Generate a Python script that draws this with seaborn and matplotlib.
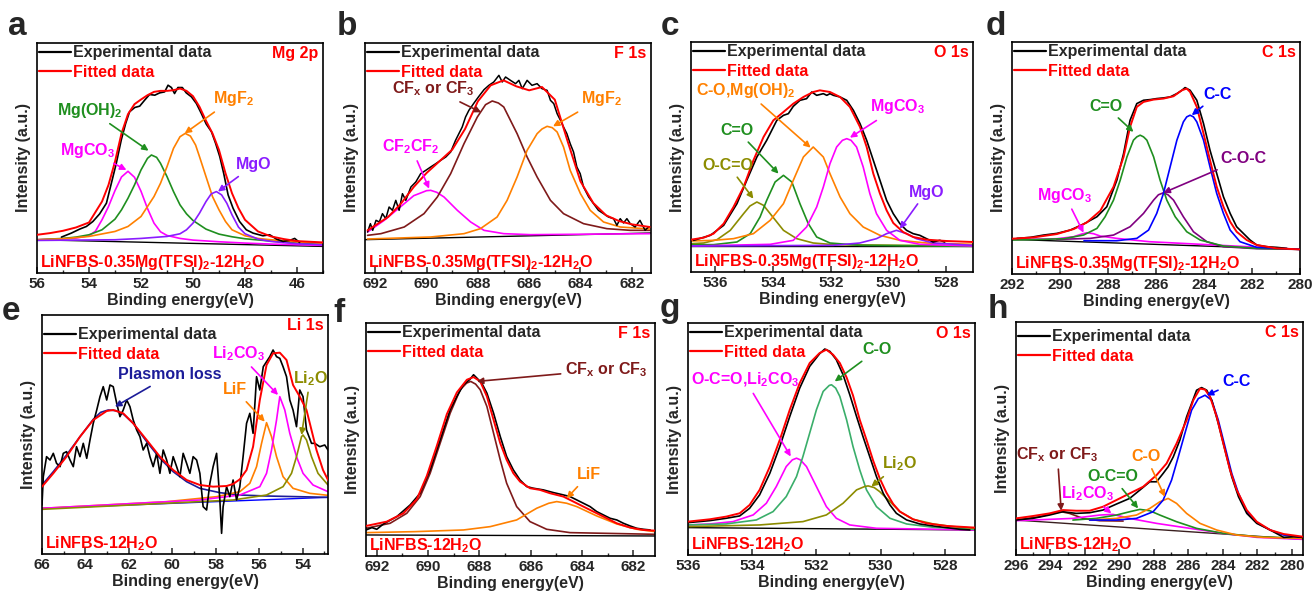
import matplotlib
matplotlib.use("Agg")
import matplotlib.pyplot as plt
from matplotlib.lines import Line2D
import seaborn as sns

# ---------------- data (binding energy eV, intensity a.u.) ----------------
# panel a : Mg 2p, LiNFBS-0.35Mg(TFSI)2-12H2O
a_exp = [(55.06,108),(54.68,120),(54.36,132),(54.1,140),(53.85,155),(53.59,178),(53.33,210),(53.14,270),(52.95,330),
         (52.76,400),(52.59,450),(52.44,485),(52.24,498),(52.05,502),(51.86,520),(51.67,537),(51.47,535),(51.28,542),
         (51.09,545),(50.96,565),(50.83,558),(50.71,540),(50.58,558),(50.41,558),(50.26,542),(50.06,530),(49.87,510),
         (49.68,480),(49.49,448),(49.29,425),(49.13,390),(48.97,350),(48.82,300),(48.65,235),(48.46,195),(48.21,155),
         (47.95,130),(47.69,120),(47.31,112),(47.05,115),(46.79,102),(46.54,95),(46.28,98),(46.09,104),(45.9,92)]
a_fit = [(56.0,115),(55.5,120),(55.0,127),(54.5,137),(54.0,152),(53.5,215),(53.25,265),(53.0,335),(52.75,420),(52.5,478),
         (52.25,508),(52.0,522),(51.75,535),(51.5,545),(51.25,548),(51.0,548),(50.75,550),(50.5,555),(50.25,548),(50.0,532),
         (49.75,500),(49.5,458),(49.25,420),(49.0,370),(48.75,300),(48.5,240),(48.25,195),(48.0,160),(47.5,125),(47.0,110),
         (46.5,102),(46.0,96),(45.5,94),(45.0,92)]
a_mgco3 = [(56,100),(55,103),(54.5,105),(54,112),(53.75,126),(53.5,160),(53.25,200),(53,248),(52.75,289),(52.5,306),
           (52.25,288),(52,246),(51.75,194),(51.5,150),(51.25,124),(51,113),(50.5,104),(50,99),(49,94),(48,90),(47,87),
           (46,85),(45,83)]
a_mgoh2 = [(56,100),(55,104),(54.5,108),(54,115),(53.5,130),(53,162),(52.75,190),(52.5,225),(52.25,265),(52,310),
           (51.75,345),(51.6,355),(51.4,348),(51.25,330),(51,290),(50.75,245),(50.5,205),(50.25,178),(50,158),(49.5,132),
           (49,117),(48.5,109),(48,103),(47,96),(46,90),(45,86)]
a_mgf2 = [(56,100),(55,103),(54,110),(53,125),(52.5,140),(52,170),(51.5,230),(51.25,270),(51,320),(50.75,375),(50.5,410),
          (50.3,420),(50.1,412),(49.9,385),(49.75,350),(49.5,290),(49.25,230),(49,190),(48.75,155),(48.5,130),(48,112),
          (47.5,104),(47,100),(46,94),(45,90)]
a_mgo = [(56,98),(53,100),(52,104),(51,110),(50.5,118),(50.25,130),(50,150),(49.75,180),(49.5,215),(49.3,238),(49.1,245),
         (48.9,235),(48.7,210),(48.5,175),(48.25,138),(48,118),(47.5,102),(47,95),(46,88),(45,85)]
a_base = [(56,100),(45,80)]

# panel b : F 1s, LiNFBS-0.35Mg(TFSI)2-12H2O
b_exp = [(692.30,123),(692.19,148),(692.10,128),(691.97,158),(691.84,153),(691.72,178),(691.59,163),(691.46,198),
         (691.33,188),(691.20,218),(691.07,188),(690.94,238),(690.81,218),(690.61,258),(690.42,273),(690.23,298),
         (690.03,308),(689.84,318),(689.64,328),(689.45,338),(689.25,348),(689.06,363),(688.87,398),(688.74,418),
         (688.61,438),(688.48,468),(688.35,488),(688.15,510),(687.96,530),(687.76,550),(687.57,563),(687.38,573),
         (687.18,593),(687.05,573),(686.92,588),(686.73,578),(686.53,568),(686.40,578),(686.27,553),(686.08,578),
         (685.89,563),(685.69,568),(685.50,553),(685.30,548),(685.17,518),(685.04,508),(684.91,478),(684.78,458),
         (684.66,438),(684.53,418),(684.40,388),(684.27,363),(684.14,318),(684.01,298),(683.88,258),(683.68,228),
         (683.49,208),(683.30,188),(683.10,178),(682.91,168),(682.71,163),(682.58,143),(682.45,163),(682.32,150),
         (682.19,163),(682.06,148),(681.87,138),(681.68,158),(681.48,128),(681.35,138)]
b_fit = [(692.3,128),(691.5,168),(691.0,208),(690.5,258),(690.0,300),(689.5,335),(689.0,370),(688.5,432),(688.0,515),
         (687.5,563),(687.0,578),(686.5,560),(686.0,548),(685.5,558),(685.0,520),(684.5,395),(684.0,275),(683.5,210),
         (683.0,173),(682.5,156),(682.0,146),(681.3,138)]
b_cfx = [(692.3,113),(691.78,118),(690.87,138),(690.1,178),(689.58,228),(689.06,298),(688.54,388),(688.02,468),
         (687.7,505),(687.44,516),(687.2,510),(686.99,498),(686.47,418),(686.08,348),(685.69,288),(685.17,218),
         (684.66,178),(683.88,148),(682.97,133),(682.06,128),(681.3,128)]
b_cf2cf2 = [(692.3,123),(691.65,158),(690.87,208),(690.5,232),(690.23,240),(690.0,247),(689.84,248),(689.6,242),
            (689.32,228),(688.8,188),(688.28,153),(687.76,128),(686.99,118),(685.95,115),(681.3,118)]
b_mgf2 = [(692.3,102),(689.84,108),(688.54,118),(687.9,133),(687.25,168),(686.86,218),(686.47,288),(686.08,368),
          (685.69,418),(685.5,432),(685.3,440),(685.1,436),(684.91,423),(684.66,378),(684.4,308),(684.0,238),
          (683.62,188),(683.1,153),(682.45,138),(681.3,132)]
b_base = [(692.4,100),(681.25,120)]

# panel c : O 1s, LiNFBS-0.35Mg(TFSI)2-12H2O
c_exp = [(536.75,95),(536.17,110),(535.71,140),(535.25,205),(534.91,275),(534.56,345),(534.22,395),(533.87,455),
         (533.64,470),(533.47,475),(533.30,497),(533.07,515),(532.84,520),(532.66,540),(532.49,530),(532.26,535),
         (532.14,530),(532.03,535),(531.91,530),(531.68,525),(531.45,515),(531.22,485),(530.99,445),(530.76,395),
         (530.53,335),(530.30,275),(530.07,215),(529.84,175),(529.61,145),(529.38,125),(529.15,115),(528.92,110),
         (528.69,100),(528.46,90),(528.23,95),(528.06,90)]
c_fit = [(536.84,97),(536.40,103),(536.06,115),(535.71,145),(535.37,195),(535.02,255),(534.68,335),(534.33,405),
         (533.99,455),(533.64,480),(533.30,505),(532.95,525),(532.61,540),(532.38,545),(532.03,540),(531.68,525),
         (531.34,495),(530.99,435),(530.76,375),(530.53,295),(530.30,235),(530.07,185),(529.84,147),(529.50,120),
         (529.15,105),(528.69,97),(528.00,93),(527.08,90)]
c_oco = [(536.84,85),(536.4,87),(535.94,97),(535.48,125),(535.02,175),(534.8,198),(534.56,210),(534.33,200),(534.1,175),
         (533.64,125),(533.18,100),(532.61,87),(531.9,82),(527.08,78)]
c_co = [(536.84,82),(536.06,82),(535.25,90),(534.79,115),(534.45,165),(534.22,215),(533.93,270),(533.64,290),
        (533.35,270),(533.07,205),(532.78,145),(532.49,105),(532.03,87),(531.0,80),(527.08,77)]
c_comg = [(536.84,93),(536.06,95),(535.37,100),(534.68,115),(534.1,155),(533.64,205),(533.3,275),(532.95,345),
          (532.61,375),(532.26,345),(532.03,295),(531.68,225),(531.34,175),(530.88,135),(530.3,110),(529.61,95),
          (528.69,87),(527.08,83)]
c_mgco3 = [(536.84,78),(534.1,83),(533.3,95),(532.84,135),(532.49,195),(532.26,255),(532.03,325),(531.8,375),
           (531.6,395),(531.45,400),(531.3,395),(531.11,375),(530.88,315),(530.65,235),(530.42,175),(530.07,125),
           (529.61,95),(528.92,83),(527.08,78)]
c_mgo = [(536.84,78),(531.92,80),(531.0,87),(530.42,100),(530.07,115),(529.73,125),(529.38,115),(529.04,100),
         (528.46,87),(527.08,80)]
c_base = [(536.84,78),(527.08,78)]

# panel d : C 1s, LiNFBS-0.35Mg(TFSI)2-12H2O
d_exp = [(291.79,107),(291.24,110),(290.68,117),(290.13,122),(289.57,132),(289.02,150),(288.46,172),(288.05,202),
         (287.63,282),(287.35,362),(287.08,462),(286.8,512),(286.52,522),(286.24,524),(285.97,527),(285.69,529),
         (285.41,532),(285.13,542),(284.92,552),(284.79,560),(284.58,552),(284.3,522),(284.02,452),(283.75,372),
         (283.47,302),(283.19,232),(282.91,182),(282.64,142),(282.36,122),(282.08,102),(281.8,87),(281.39,82),
         (280.97,80),(280.55,77)]
d_fit = [(292,106),(291.1,110),(290.13,120),(289.43,135),(288.88,155),(288.32,190),(287.77,262),(287.35,352),
         (287.08,442),(286.8,502),(286.52,517),(286.1,524),(285.69,527),(285.27,534),(284.92,552),(284.72,557),
         (284.58,547),(284.3,502),(284.02,422),(283.75,342),(283.47,262),(283.19,202),(282.91,157),(282.64,127),
         (282.22,102),(281.8,87),(280.97,77),(280,74)]
d_co = [(292,102),(290.8,104),(289.85,106),(289.02,117),(288.46,137),(288.12,172),(287.77,222),(287.49,282),
        (287.21,352),(286.94,402),(286.8,412),(286.66,417),(286.52,412),(286.38,402),(286.1,352),(285.83,282),
        (285.55,222),(285.2,172),(284.72,127),(284.16,102),(283.19,84),(281.8,77),(280,74)]
d_cc = [(289.0,100),(287.63,100),(286.8,107),(286.31,132),(285.97,182),(285.69,242),(285.41,322),(285.13,402),
        (284.86,457),(284.72,472),(284.58,477),(284.44,472),(284.3,457),(284.02,402),(283.75,322),(283.47,242),
        (283.19,182),(282.91,132),(282.5,97),(281.8,80),(280,74)]
d_coc = [(290.13,104),(288.74,107),(287.77,117),(287.08,142),(286.52,182),(286.1,222),(285.9,238),(285.69,244),
         (285.5,238),(285.27,222),(284.86,172),(284.44,127),(283.88,97),(283.19,82),(281.8,76),(280,74)]
d_mgco3 = [(292,104),(290.68,105),(290.13,106),(289.43,112),(289.1,120),(288.88,124),(288.6,121),(288.32,114),
           (287.63,107),(286.27,97),(280,74)]
d_base = [(292,104),(280,74)]

# panel e : Li 1s, LiNFBS-12H2O
e_exp = [(66.0,147),(65.94,232),(65.79,292),(65.63,282),(65.48,302),(65.33,272),(65.17,262),(65.02,302),(64.87,307),
         (64.71,282),(64.56,262),(64.41,322),(64.25,292),(64.10,332),(63.94,287),(63.79,342),(63.64,392),(63.48,432),
         (63.33,472),(63.18,502),(63.02,462),(62.87,507),(62.72,502),(62.56,452),(62.41,412),(62.26,432),(62.10,462),
         (61.95,442),(61.80,402),(61.64,372),(61.49,352),(61.34,312),(61.18,332),(61.03,292),(60.88,262),(60.72,302),
         (60.57,242),(60.42,312),(60.26,282),(60.11,242),(59.96,292),(59.80,262),(59.65,232),(59.50,302),(59.34,272),
         (59.19,242),(59.04,292),(58.88,282),(58.73,242),(58.58,142),(58.42,132),(58.27,212),(58.12,262),(57.96,302),
         (57.81,162),(57.73,62),(57.66,142),(57.50,202),(57.35,172),(57.20,222),(57.04,162),(56.89,202),(56.74,292),
         (56.58,392),(56.43,422),(56.28,362),(56.12,532),(55.97,492),(55.81,562),(55.66,577),(55.51,592),(55.36,612),
         (55.20,592),(55.05,587),(54.90,562),(54.74,532),(54.59,462),(54.44,432),(54.28,382),(54.13,492),(53.98,472),
         (53.82,372),(53.59,332),(53.44,332),(53.21,322),(52.98,327),(52.83,312)]
e_fit = [(66.0,202),(65.48,242),(64.87,292),(64.25,352),(63.64,402),(63.02,429),(62.72,432),(62.26,422),(61.8,392),
         (61.18,342),(60.57,292),(59.96,252),(59.34,222),(58.73,207),(58.12,202),(57.5,204),(57.2,210),(56.89,224),
         (56.58,252),(56.28,322),(55.97,462),(55.66,567),(55.36,602),(55.05,604),(54.74,582),(54.44,507),(54.13,472),
         (53.82,432),(53.59,372),(53.36,312),(53.06,252),(52.83,222)]
e_plasmon = [(66.0,207),(65.48,247),(64.87,297),(64.25,352),(63.64,404),(63.3,425),(62.95,432),(62.6,430),(62.26,420),
             (61.8,392),(61.18,337),(60.57,287),(59.96,247),(59.34,217),(58.73,197),(57.81,184),(56.89,177),(55.66,174),
             (52.83,170)]
e_lif = [(66.0,137),(60.26,157),(57.96,172),(56.89,187),(56.43,212),(56.12,262),(55.89,332),(55.66,394),(55.43,352),
         (55.2,292),(54.9,232),(54.44,197),(53.67,182),(52.83,176)]
e_li2co3 = [(66.0,137),(58.73,162),(56.89,177),(55.97,202),(55.66,242),(55.43,312),(55.2,402),(55.05,472),(54.82,432),
            (54.59,362),(54.28,292),(53.98,242),(53.52,207),(52.83,187)]
e_li2o = [(66.0,134),(57.2,162),(55.66,177),(54.9,202),(54.51,242),(54.28,292),(54.05,352),(53.98,357),(53.82,342),
          (53.59,292),(53.29,242),(52.83,207)]
e_base = [(66.0,137),(52.83,170)]

# panel f : F 1s, LiNFBS-12H2O
f_exp = [(692.42,78),(692.19,85),(692.0,80),(691.74,96),(691.22,118),(690.70,153),(690.31,188),(689.92,258),
         (689.53,348),(689.14,438),(688.88,478),(688.62,513),(688.36,530),(688.23,543),(688.10,533),(687.91,518),
         (687.71,488),(687.45,428),(687.19,358),(686.94,298),(686.68,258),(686.42,228),(686.16,208),(685.90,203),
         (685.51,198),(685.12,190),(684.73,183),(684.47,178),(684.21,168),(683.95,158),(683.69,148),(683.43,133),
         (683.17,123),(682.91,113),(682.65,108),(682.39,98),(682.13,90),(681.87,83),(681.61,80),(681.35,78)]
f_fit = [(692.42,90),(691.61,103),(690.96,128),(690.44,170),(690.05,240),(689.66,330),(689.27,425),(688.88,490),
         (688.49,528),(688.23,536),(687.97,523),(687.71,478),(687.45,408),(687.19,338),(686.94,288),(686.68,248),
         (686.42,223),(686.03,203),(685.64,198),(685.25,188),(684.73,178),(684.21,158),(683.69,138),(683.17,118),
         (682.65,98),(682.13,85),(681.61,78),(681.16,76)]
f_cfx = [(692.42,83),(691.48,98),(690.83,128),(690.31,178),(689.92,248),(689.53,338),(689.14,428),(688.75,498),
         (688.5,518),(688.34,523),(688.15,515),(687.97,498),(687.71,448),(687.45,368),(687.19,288),(686.94,218),
         (686.55,148),(686.03,103),(685.38,80),(684.47,70),(681.16,65)]
f_lif = [(692.42,70),(690.5,73),(688.62,78),(687.58,88),(686.55,108),(685.77,143),(685.3,158),(684.99,163),
         (684.6,158),(684.21,148),(683.43,120),(682.65,96),(681.87,80),(681.16,73)]
f_base = [(692.42,63),(681.16,60)]

# panel g : O 1s, LiNFBS-12H2O
g_exp = [(536.0,97),(535.32,103),(534.81,110),(534.39,117),(534.08,140),(533.77,180),(533.45,245),(533.14,325),
         (532.83,415),(532.52,500),(532.21,565),(531.9,603),(531.74,617),(531.58,610),(531.38,585),(531.17,540),
         (530.96,480),(530.75,415),(530.55,355),(530.34,295),(530.13,235),(529.92,185),(529.71,150),(529.51,125),
         (529.19,105),(528.78,93),(528.36,87),(527.95,82),(527.53,77),(527.22,75)]
g_fit = [(536.0,100),(535.32,107),(534.81,115),(534.39,125),(534.08,150),(533.77,195),(533.45,265),(533.14,345),
         (532.83,435),(532.52,515),(532.21,575),(531.9,605),(531.69,615),(531.48,600),(531.27,575),(531.06,532),
         (530.86,478),(530.65,405),(530.44,345),(530.23,282),(530.03,230),(529.82,187),(529.61,153),(529.4,130),
         (528.99,107),(528.57,95),(527.95,87),(527.06,82)]
g_co = [(536.0,90),(534.81,93),(533.87,105),(533.35,130),(532.94,175),(532.62,235),(532.42,295),(532.21,365),
        (532.0,435),(531.79,490),(531.6,508),(531.53,510),(531.4,500),(531.27,475),(531.06,405),(530.86,325),
        (530.65,255),(530.44,195),(530.13,145),(529.71,110),(529.19,93),(528.36,83),(527.06,77)]
g_oco = [(536.0,90),(535.32,93),(534.6,100),(533.97,120),(533.56,155),(533.25,205),(532.94,265),(532.75,285),
         (532.62,290),(532.5,285),(532.31,265),(532.0,205),(531.69,145),(531.38,110),(530.96,90),(530.13,80),(527.06,75)]
g_li2o = [(536.0,85),(533.77,90),(532.42,100),(531.69,120),(531.17,155),(530.75,195),(530.5,205),(530.39,207),
          (530.2,202),(530.03,190),(529.71,160),(529.4,130),(528.99,107),(528.36,93),(527.74,85),(527.06,80)]
g_base = [(536.0,82),(527.06,75)]

# panel h : C 1s, LiNFBS-12H2O
h_exp = [(296.0,105),(295.03,110),(294.06,120),(293.28,130),(292.51,125),(291.73,127),(290.96,135),(290.18,153),
         (289.41,170),(288.82,195),(288.24,220),(287.85,220),(287.47,245),(287.18,265),(286.88,295),(286.5,345),
         (286.11,415),(285.82,455),(285.53,495),(285.24,503),(284.94,495),(284.65,465),(284.27,395),(283.88,315),
         (283.49,235),(283.1,175),(282.62,125),(282.04,95),(281.26,75),(280.48,53),(279.9,55),(279.36,53)]
h_fit = [(296.0,110),(295.03,117),(294.06,125),(293.28,135),(292.51,133),(291.73,133),(290.96,145),(290.18,165),
         (289.41,185),(288.63,205),(287.85,240),(287.27,275),(286.69,335),(286.11,405),(285.72,465),(285.33,500),
         (285.04,497),(284.75,475),(284.36,415),(283.98,335),(283.59,255),(283.2,195),(282.62,135),(282.04,100),
         (281.26,75),(280.48,63),(279.36,55)]
h_cc = [(291.73,105),(290.18,105),(289.02,110),(288.05,130),(287.47,165),(286.98,225),(286.59,295),(286.21,365),
        (285.82,435),(285.43,470),(285.04,480),(284.65,465),(284.27,405),(283.88,325),(283.49,245),(283.1,185),
        (282.62,130),(282.04,97),(281.26,75),(280.48,60),(279.36,53)]
h_c_o = [(291.73,105),(290.18,110),(289.02,120),(288.24,140),(287.66,160),(287.18,170),(286.69,155),(286.11,125),
         (285.33,95),(284.36,75),(283.2,60),(281.65,53),(279.36,50)]
h_oco = [(292.7,105),(291.35,110),(290.18,120),(289.41,130),(288.82,137),(288.24,133),(287.66,120),(286.69,100),
         (285.53,80),(283.98,65),(282.04,55),(279.36,50)]
h_li2co3 = [(296.0,103),(292.7,110),(291.15,120),(290.38,122),(289.41,110),(287.85,95),(285.91,80),(283.98,65),
            (282.04,53),(279.36,47)]
h_cfx = [(296.0,105),(294.64,115),(293.87,125),(293.38,130),(292.9,125),(292.12,110),(291.15,103),(289.79,102)]
h_base = [(296.0,105),(279.36,47)]

# ---------------- style ----------------
sns.set_theme(style="white")
plt.rcParams.update({
    "font.family": ["Liberation Sans", "DejaVu Sans"],
    "font.weight": "bold",
    "axes.labelweight": "bold",
    "axes.linewidth": 1.2,
    "axes.edgecolor": "black",
    "mathtext.fontset": "custom",
    "mathtext.rm": "Liberation Sans:bold",
    "mathtext.it": "Liberation Sans:bold",
    "mathtext.bf": "Liberation Sans:bold",
    "mathtext.sf": "Liberation Sans:bold",
    "mathtext.default": "rm",
})

FS = 11.5
RED = "#ff0000"; GREEN = "#1f8f1f"; ORANGE = "#ff8000"; MAGENTA = "#ff00ff"; VIOLET = "#8a1cff"
BROWN = "#7f1a1a"; OLIVE = "#8c8c00"; NAVY = "#1c1c99"; BLUE = "#0000ff"; PURPLE = "#800080"; SEAGREEN = "#3aae6a"

W, H = 1314, 599
fig = plt.figure(figsize=(W / 100, H / 100), dpi=100)


def make_ax(l, t, r, b):
    return fig.add_axes([l / W, 1 - b / H, (r - l) / W, (b - t) / H])


def draw(ax, pts, color, lw=1.2, z=2):
    xs = [p[0] for p in pts]
    ys = [p[1] for p in pts]
    sns.lineplot(x=xs, y=ys, ax=ax, color=color, lw=lw, estimator=None, sort=True, zorder=z)


def note(ax, text, xy, xyt, color):
    ax.annotate(text, xy=xy, xytext=xyt, color=color, fontsize=FS, fontweight="bold", ha="center", va="center",
                arrowprops=dict(arrowstyle="-|>", color=color, lw=1.2, mutation_scale=9, shrinkA=1, shrinkB=0), zorder=6)


def finish(ax, xlim, ylim_top, majors, core, sample, leg_y=1.0):
    ax.set_xlim(*xlim)
    ax.set_ylim(0, ylim_top)
    ax.set_xticks(majors)
    lo, hi = min(xlim), max(xlim)
    ax.set_xticks([v for v in range(int(lo), int(hi) + 1) if v not in majors and lo <= v <= hi], minor=True)
    ax.set_yticks([])
    ax.tick_params(axis="x", which="major", direction="in", length=4, width=1.1, labelsize=11, pad=3,
                   bottom=True, top=False)
    ax.tick_params(axis="x", which="minor", direction="in", length=2.5, width=1.0, bottom=True, top=False)
    for lab in ax.get_xticklabels():
        lab.set_fontweight("bold")
    ax.set_xlabel("Binding energy(eV)", fontsize=FS, fontweight="bold", labelpad=1)
    ax.set_ylabel("Intensity (a.u.)", fontsize=FS, fontweight="bold", labelpad=4)
    for s in ax.spines.values():
        s.set_visible(True); s.set_linewidth(1.2); s.set_color("black")
    ax.text(0.985, 0.955, core, transform=ax.transAxes, ha="right", va="center", color=RED, fontsize=FS,
            fontweight="bold")
    ax.text(0.01, 0.045, sample, transform=ax.transAxes, ha="left", va="center", color=RED, fontsize=FS,
            fontweight="bold")
    handles = [Line2D([], [], color="black", lw=1.6), Line2D([], [], color=RED, lw=1.6)]
    leg = ax.legend(handles, ["Experimental data", "Fitted data"], loc="upper left", bbox_to_anchor=(0.0, leg_y),
                    frameon=False, borderaxespad=0, borderpad=0.15, handlelength=2.0, handletextpad=0.12,
                    labelspacing=0.28, prop={"weight": "bold", "size": FS})
    leg.get_texts()[1].set_color(RED)
    ax.set_facecolor("white")


S1 = "LiNFBS-0.35Mg(TFSI)$_2$-12H$_2$O"
S2 = "LiNFBS-12H$_2$O"

# ---- a ----
ax = make_ax(37, 43, 323, 273)
draw(ax, a_base, "black", 1.0)
draw(ax, a_mgco3, MAGENTA); draw(ax, a_mgoh2, GREEN); draw(ax, a_mgf2, ORANGE); draw(ax, a_mgo, VIOLET)
draw(ax, a_exp, "black", 1.2, 3); draw(ax, a_fit, RED, 1.4, 4)
note(ax, "Mg(OH)$_2$", (51.71, 368), (53.95, 490), GREEN)
note(ax, "MgF$_2$", (50.32, 420), (48.45, 525), ORANGE)
note(ax, "MgCO$_3$", (52.56, 310), (54.05, 370), MAGENTA)
note(ax, "MgO", (49.04, 245), (47.65, 325), VIOLET)
finish(ax, (56, 45), 692, [56, 54, 52, 50, 48, 46], "Mg 2p", S1)

# ---- b ----
ax = make_ax(365, 43, 651, 273)
draw(ax, b_base, "black", 1.0)
draw(ax, b_cf2cf2, MAGENTA); draw(ax, b_cfx, BROWN); draw(ax, b_mgf2, ORANGE)
draw(ax, b_exp, "black", 1.1, 3); draw(ax, b_fit, RED, 1.4, 4)
note(ax, "CF$_x$ or CF$_3$", (687.87, 482), (689.75, 553), BROWN)
note(ax, "MgF$_2$", (685.07, 440), (683.2, 523), ORANGE)
note(ax, "CF$_2$CF$_2$", (689.9, 253), (690.6, 378), MAGENTA)
finish(ax, (692.4, 681.25), 690, [692, 690, 688, 686, 684, 682], "F 1s", S1)

# ---- c ----
ax = make_ax(691, 42, 973, 272)
draw(ax, c_base, "black", 1.0)
draw(ax, c_oco, OLIVE); draw(ax, c_co, GREEN); draw(ax, c_comg, ORANGE); draw(ax, c_mgco3, MAGENTA); draw(ax, c_mgo, VIOLET)
draw(ax, c_exp, "black", 1.2, 3); draw(ax, c_fit, RED, 1.4, 4)
note(ax, "C-O,Mg(OH)$_2$", (532.7, 373), (534.95, 545), ORANGE)
note(ax, "MgCO$_3$", (531.34, 403), (529.7, 495), MAGENTA)
note(ax, "C=O", (533.81, 295), (535.25, 425), GREEN)
note(ax, "O-C=O", (534.68, 220), (535.55, 320), OLIVE)
note(ax, "MgO", (529.61, 130), (528.7, 240), VIOLET)
finish(ax, (536.84, 527.08), 690, [536, 534, 532, 530, 528], "O 1s", S1)

# ---- d ----
ax = make_ax(1012, 42, 1300, 274)
draw(ax, d_base, "black", 1.0)
draw(ax, d_mgco3, MAGENTA); draw(ax, d_coc, PURPLE); draw(ax, d_co, GREEN); draw(ax, d_cc, BLUE)
draw(ax, d_exp, "black", 1.2, 3); draw(ax, d_fit, RED, 1.4, 4)
note(ax, "C=O", (286.94, 427), (288.1, 504), GREEN)
note(ax, "C-C", (284.51, 477), (283.45, 539), BLUE)
note(ax, "C-O-C", (285.69, 244), (282.35, 347), PURPLE)
note(ax, "MgCO$_3$", (289.02, 124), (289.8, 237), MAGENTA)
finish(ax, (292, 280), 697, [292, 290, 288, 286, 284, 282, 280], "C 1s", S1)

# ---- e ----
ax = make_ax(42, 315, 328, 554)
draw(ax, e_base, BLUE, 1.0)
draw(ax, e_plasmon, NAVY); draw(ax, e_lif, ORANGE); draw(ax, e_li2co3, MAGENTA); draw(ax, e_li2o, OLIVE)
draw(ax, e_exp, "black", 1.2, 3); draw(ax, e_fit, RED, 1.4, 4)
note(ax, "Plasmon loss", (62.64, 442), (60.1, 537), NAVY)
note(ax, "LiF", (55.74, 397), (57.1, 492), ORANGE)
note(ax, "Li$_2$CO$_3$", (55.13, 477), (56.95, 602), MAGENTA)
note(ax, "Li$_2$O", (54.05, 357), (53.65, 527), OLIVE)
finish(ax, (66.0, 52.83), 717, [66, 64, 62, 60, 58, 56, 54], "Li 1s", S2, leg_y=1 - 10 / 239)

# ---- f ----
ax = make_ax(366, 323, 655, 556)
draw(ax, f_base, "black", 1.0)
draw(ax, f_cfx, BROWN); draw(ax, f_lif, ORANGE)
draw(ax, f_exp, "black", 1.2, 3); draw(ax, f_fit, RED, 1.4, 4)
note(ax, "CF$_x$ or CF$_3$", (688.1, 523), (683.05, 558), BROWN)
note(ax, "LiF", (684.6, 173), (683.75, 243), ORANGE)
finish(ax, (692.42, 681.16), 698, [692, 690, 688, 686, 684, 682], "F 1s", S2)

# ---- g ----
ax = make_ax(688, 323, 975, 555)
draw(ax, g_base, "black", 1.0)
draw(ax, g_oco, MAGENTA); draw(ax, g_co, SEAGREEN); draw(ax, g_li2o, OLIVE)
draw(ax, g_exp, "black", 1.2, 3); draw(ax, g_fit, RED, 1.4, 4)
note(ax, "C-O", (531.43, 520), (530.1, 615), GREEN)
note(ax, "O-C=O,Li$_2$CO$_3$", (532.8, 295), (534.22, 525), MAGENTA)
note(ax, "Li$_2$O", (530.29, 205), (529.4, 275), OLIVE)
finish(ax, (536.0, 527.06), 695, [536, 534, 532, 530, 528], "O 1s", S2)

# ---- h ----
ax = make_ax(1016, 322, 1303, 555)
draw(ax, h_base, "#3a2020", 1.0)
draw(ax, h_cfx, BROWN); draw(ax, h_li2co3, MAGENTA); draw(ax, h_oco, GREEN); draw(ax, h_c_o, ORANGE); draw(ax, h_cc, BLUE)
draw(ax, h_exp, "black", 1.2, 3); draw(ax, h_fit, RED, 1.4, 4)
note(ax, "C-C", (284.94, 480), (283.2, 520), BLUE)
note(ax, "C-O", (287.37, 175), (288.45, 295), ORANGE)
note(ax, "O-C=O", (288.92, 140), (290.4, 235), GREEN)
note(ax, "CF$_x$ or CF$_3$", (293.38, 133), (293.6, 300), BROWN)
note(ax, "Li$_2$CO$_3$", (290.47, 125), (291.85, 185), MAGENTA)
finish(ax, (296, 279.36), 700, [296, 294, 292, 290, 288, 286, 284, 282, 280], "C 1s", S2, leg_y=1 - 5 / 233)

# panel letters
for ch, px, py in [("a", 8, 35), ("b", 337, 35), ("c", 661, 35), ("d", 986, 35),
                   ("e", 2, 320), ("f", 333, 322), ("g", 660, 317), ("h", 988, 318)]:
    fig.text(px / W, 1 - py / H, ch, fontsize=24, fontweight="bold", ha="left", va="baseline")

fig.savefig("out.png", dpi=100)
